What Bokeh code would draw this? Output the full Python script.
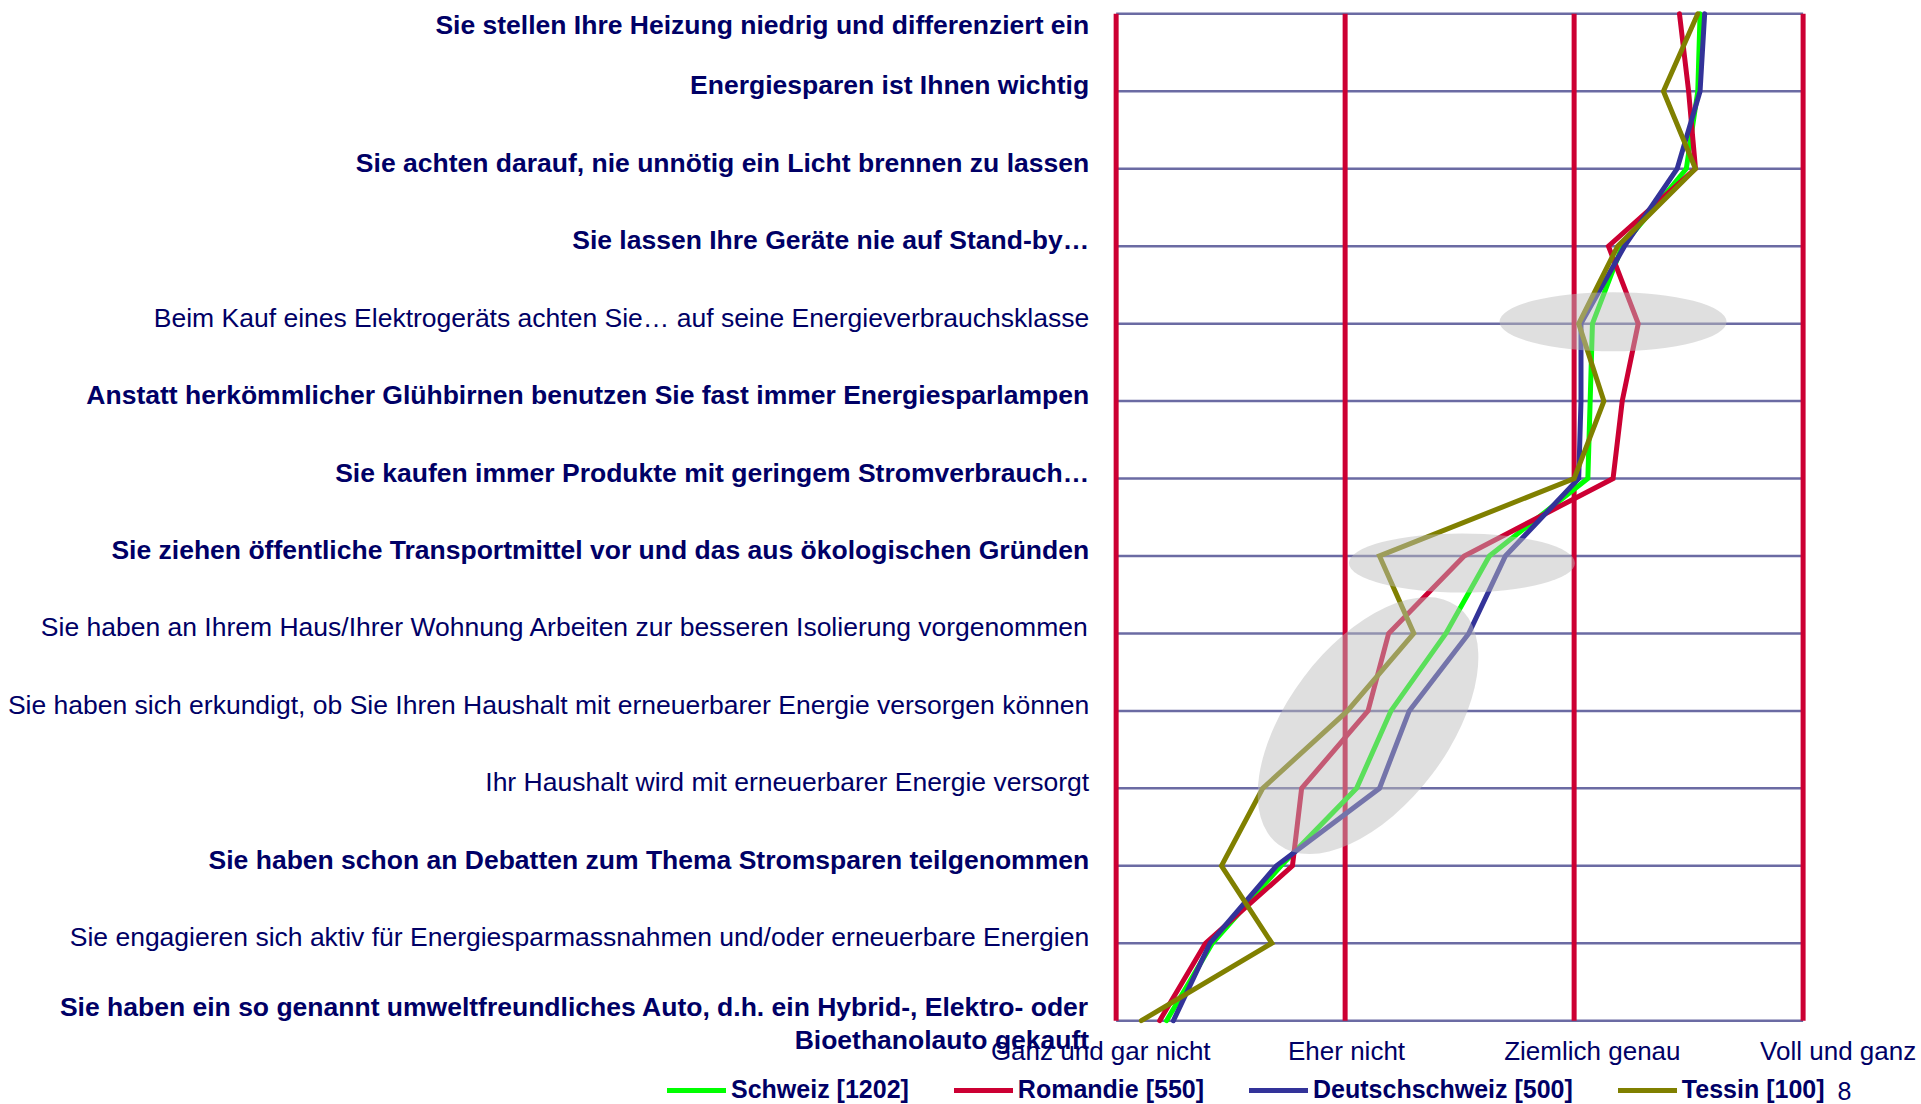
import math
from bokeh.plotting import figure
from bokeh.models import Range1d, Legend, LegendItem, Label, ColumnDataSource
from bokeh.core.properties import value
from bokeh.embed import file_html
from bokeh.resources import INLINE

# ---------------- data ----------------
statements = [
    "Sie stellen Ihre Heizung niedrig und differenziert ein",
    "Energiesparen ist Ihnen wichtig",
    "Sie achten darauf, nie unnötig ein Licht brennen zu lassen",
    "Sie lassen Ihre Geräte nie auf Stand-by…",
    "Beim Kauf eines Elektrogeräts achten Sie… auf seine Energieverbrauchsklasse",
    "Anstatt herkömmlicher Glühbirnen benutzen Sie fast immer Energiesparlampen",
    "Sie kaufen immer Produkte mit geringem Stromverbrauch…",
    "Sie ziehen öffentliche Transportmittel vor und das aus ökologischen Gründen",
    "Sie haben an Ihrem Haus/Ihrer Wohnung Arbeiten zur besseren Isolierung vorgenommen",
    "Sie haben sich erkundigt, ob Sie Ihren Haushalt mit erneuerbarer Energie versorgen können",
    "Ihr Haushalt wird mit erneuerbarer Energie versorgt",
    "Sie haben schon an Debatten zum Thema Stromsparen teilgenommen",
    "Sie engagieren sich aktiv für Energiesparmassnahmen und/oder erneuerbare Energien",
    "Sie haben ein so genannt umweltfreundliches Auto, d.h. ein Hybrid-, Elektro- oder\nBioethanolauto gekauft",
]
bold_flags = [True, True, True, True, False, True, True, True, False, False, False, True, False, True]

scale_values = [1, 2, 3, 4]
scale_labels = ["Ganz und gar nicht", "Eher nicht", "Ziemlich genau", "Voll und ganz"]

schweiz = [3.55, 3.54, 3.49, 3.21, 3.08, 3.07, 3.06, 2.63, 2.44, 2.20, 2.05, 1.72, 1.42, 1.22]
romandie = [3.46, 3.50, 3.53, 3.15, 3.28, 3.21, 3.17, 2.52, 2.19, 2.10, 1.81, 1.77, 1.39, 1.19]
deutschschweiz = [3.57, 3.55, 3.45, 3.22, 3.03, 3.03, 3.02, 2.70, 2.54, 2.28, 2.15, 1.70, 1.41, 1.25]
tessin = [3.54, 3.39, 3.53, 3.19, 3.02, 3.13, 3.00, 2.15, 2.30, 2.01, 1.64, 1.46, 1.68, 1.11]

series_names = ["Schweiz [1202]", "Romandie [550]", "Deutschschweiz [500]", "Tessin [100]"]
series_values = [schweiz, romandie, deutschschweiz, tessin]
series_colors = ["#00ff00", "#cc0033", "#333399", "#808000"]

page_number = "8"

# highlighted zones (scale value, row position counted from the bottom row = 0)
hl_x = [3.17, 2.51, 2.10]
hl_y = [9.025, 5.91, 3.81]
hl_w = [227, 226, 298]
hl_h = [59, 59, 161]
hl_angle_deg = [0, 0, 53]

# ---------------- figure ----------------
n = len(statements)
rows = [n - 1 - i for i in range(n)]

FONT = "Liberation Sans"
NAVY = "#000066"

p = figure(width=1921, height=1104,
           x_range=Range1d(-3.872, 4.517), y_range=Range1d(-1.082, 13.172),
           output_backend="svg", toolbar_location=None,
           x_axis_location=None, y_axis_location=None,
           min_border=0, min_border_left=0, min_border_right=0,
           min_border_top=0, min_border_bottom=0)
p.outline_line_color = None
p.grid.visible = False
p.background_fill_color = "white"
p.border_fill_color = "white"
p.extra_x_ranges = {"lab": Range1d(-3.476, 4.339)}

# horizontal statement lines
p.segment(x0=[scale_values[0]] * n, x1=[scale_values[-1]] * n, y0=rows, y1=rows,
          line_color="#6b6ba3", line_width=2.5)
# vertical scale lines
p.segment(x0=scale_values, x1=scale_values, y0=[min(rows)] * 4, y1=[max(rows)] * 4,
          line_color="#cc0033", line_width=5)

# series lines
renderers = []
for vals, col in zip(series_values, series_colors):
    r = p.line(x=vals, y=rows, line_color=col, line_width=5, line_cap="round", line_join="miter")
    renderers.append(r)

# highlight ellipses
p.ellipse(x=hl_x, y=hl_y, width=hl_w, height=hl_h,
          angle=[math.radians(a) for a in hl_angle_deg],
          width_units="screen", height_units="screen",
          fill_color="#bcbcbc", fill_alpha=0.48, line_color=None)

# statement labels (left)
offsets = []
for i in range(n):
    if i == 0:
        offsets.append(11)
    elif i == n - 1:
        offsets.append(3)
    else:
        offsets.append(-6)

for flag, style in [(True, "bold"), (False, "normal")]:
    idx = [i for i in range(n) if bold_flags[i] == flag]
    src = ColumnDataSource(dict(
        x=[scale_values[0]] * len(idx),
        y=[rows[i] for i in idx],
        t=[statements[i] for i in idx],
        yo=[offsets[i] for i in idx],
    ))
    p.text(x="x", y="y", text="t", source=src, x_offset=-27, y_offset="yo",
           text_align="right", text_baseline="middle",
           text_font=value(FONT), text_font_size="26.5px", text_font_style=style,
           text_color=NAVY, text_line_height=1.12)

# scale labels (below)
p.text(x=scale_values, y=[min(rows)] * 4, text=scale_labels, x_range_name="lab",
       y_offset=30, text_align="center", text_baseline="alphabetic",
       text_font=value(FONT), text_font_size="26px", text_color=NAVY)

# legend
legend = Legend(items=[LegendItem(label=nm, renderers=[r]) for nm, r in zip(series_names, renderers)],
                orientation="horizontal", location=(667, 0),
                glyph_width=59, glyph_height=20, label_standoff=5, spacing=45,
                padding=0, margin=0, border_line_color=None, background_fill_alpha=0,
                label_text_font=FONT, label_text_font_size="25px",
                label_text_font_style="bold", label_text_color=NAVY)
p.add_layout(legend)

p.add_layout(Label(x=1837, y=14, x_units="screen", y_units="screen", text=page_number,
                   text_font=FONT, text_font_size="25px", text_baseline="middle",
                   text_color=NAVY))

open("out.html", "w").write(file_html(p, INLINE))
